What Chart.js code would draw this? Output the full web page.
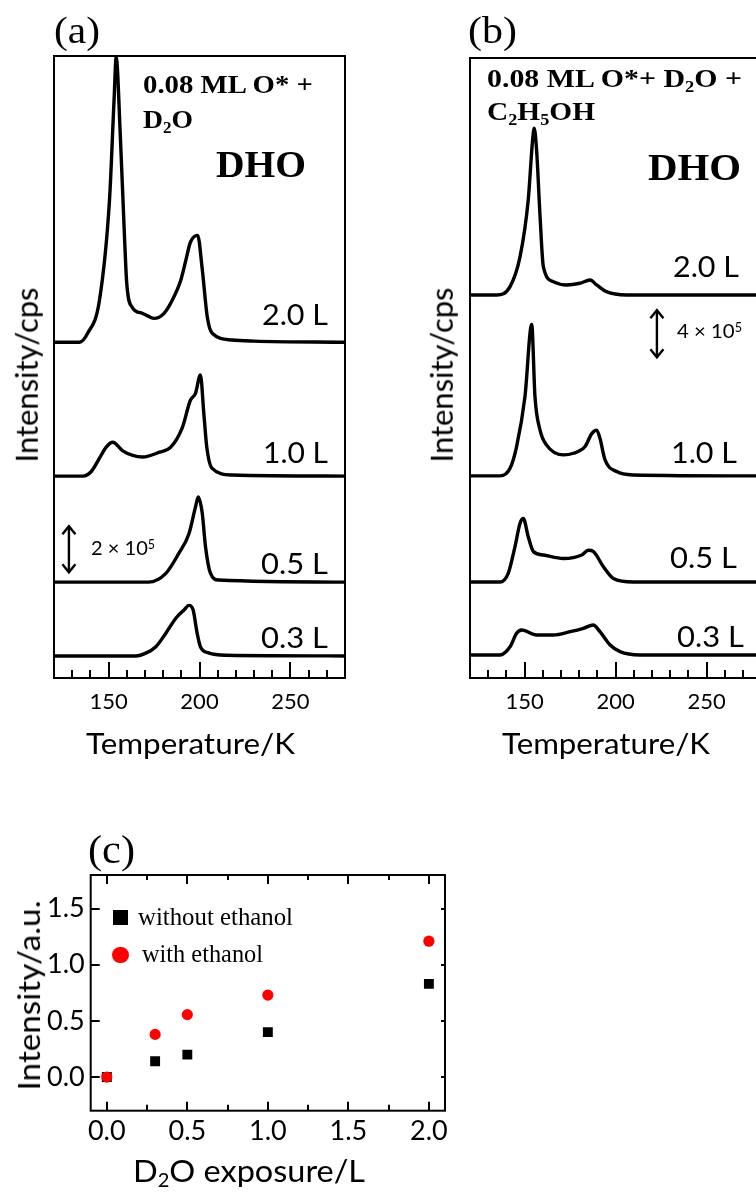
<!DOCTYPE html>
<html><head><meta charset="utf-8">
<script src="https://cdn.jsdelivr.net/npm/chart.js@4.4.1/dist/chart.umd.min.js"></script>
<style>
html,body{margin:0;padding:0;width:756px;height:1192px;overflow:hidden;background:#fff;}
.box{position:absolute;}
.t{position:absolute;white-space:nowrap;line-height:1;color:#000;}
.t sub{font-size:0.62em;vertical-align:-0.28em;line-height:0;}
.t sup{font-size:0.62em;vertical-align:0.45em;line-height:0;}
.bl{display:inline-block;width:0;height:0;vertical-align:baseline;}
.mk{position:absolute;}
</style></head><body>
<div class="box" style="left:0;top:0"><canvas id="ca" width="380" height="740"></canvas></div>
<div class="box" style="left:400px;top:0"><canvas id="cb" width="380" height="740"></canvas></div>
<div class="box" style="left:0;top:800px"><canvas id="cc" width="460" height="392"></canvas></div>
<script>
// ---------------- DATA ----------------
// Panel (a): 0.08 ML O* + D2O, DHO TPD traces (temperature K, intensity in 1e5 cps)
const exposureLabels = ['2.0 L', '1.0 L', '0.5 L', '0.3 L'];

const a20T = [120,134,138.5,145,150.5,153,154.2,156.4,158.7,160,163,168.6,175,180.5,185,189.7,192.5,195,199,201.4,204.3,207,217.8,230,280];
const a20I = [0,0,0.39,1.83,6.17,10.5,12.4,9.1,4.7,2.56,1.52,1.26,1.04,1.26,1.83,2.7,3.57,4.35,4.65,3.26,1.09,0.39,0.1,0.05,0];
const a10T = [120,136,140.5,145,148.7,152.3,157.8,163.3,168.7,178,184.2,190.5,195,197.8,200.5,202.4,204,206.8,217.8,280];
const a10I = [0,0,0.2,0.78,1.26,1.47,1.1,0.9,0.83,1.04,1.26,2.1,3.3,3.6,4.4,2.7,1.26,0.35,0.05,0];
const a05T = [120,172,181.5,188.7,194.2,197.8,199.3,201.5,203.3,206,210.5,280];
const a05I = [0,0,0.38,1.26,2.1,3.27,3.7,3.0,1.54,0.39,0.09,0];
const a03T = [120,165,170.5,176,181.5,187,191.5,194.2,196.5,198.7,200.5,205,215,280];
const a03I = [0,0,0.12,0.4,0.99,1.64,2.0,2.2,2.0,0.99,0.4,0.13,0.03,0];

// Panel (b): 0.08 ML O* + D2O + C2H5OH
const b20T = [120,134.7,142,147.5,152,154.4,155.3,156.6,158.5,160.3,165.8,173,180.4,186,189.6,195,206,280];
const b20I = [0,0,0.71,3.26,8.1,13.2,14.2,12.3,6.67,2.41,1.13,0.85,1.0,1.28,0.85,0.28,0,0];
const b10T = [120,136.5,142,145.6,150.2,153.9,155.7,158.5,162,171.3,176.8,183.2,186.9,189.6,191.4,194.2,200.6,209.7,280];
const b10I = [0,0,0.65,2.5,6.75,12.9,6.75,3.9,2.64,1.79,1.93,2.5,3.6,3.9,3.2,1.36,0.37,0.08,0];
const b05T = [120,136.5,141,144.7,147.5,149.3,152,154.8,160.3,171.3,181.4,185,187.7,193.3,198.8,209.7,280];
const b05I = [0,0,0.74,3.0,5.0,5.4,3.86,2.6,2.3,2.0,2.3,2.7,2.6,1.3,0.3,0,0];
const b03T = [120,136.5,142,145.6,148.4,156.6,165.8,175,182.3,187.7,191.4,197,202.4,213.4,280];
const b03I = [0,0,0.7,1.85,2.13,1.7,1.7,1.98,2.27,2.55,1.98,0.85,0.28,0,0];

// vertical stacking offsets of the traces (1e5 cps)
const offsetsA = [14.6, 8.78, 4.17, 0.96];
const offsetsB = [32.6, 17.2, 8.17, 1.96];

// Panel (c)
const exposure = [0, 0.3, 0.5, 1.0, 2.0];
const withoutEthanol = [0, 0.14, 0.20, 0.40, 0.83];
const withEthanol = [0, 0.38, 0.556, 0.73, 1.21];

// tick settings
const tempTickLabels = [150, 200, 250];

// ---------------- CHARTS ----------------
Chart.defaults.font.family = 'Lato';
Chart.defaults.color = '#000';

function isMult(v, m){ return Math.abs(v/m - Math.round(v/m)) < 1e-6; }

const framePlugin = {
  id: 'frame',
  afterDatasetsDraw(chart, args, o) {
    const ctx = chart.ctx, a = chart.chartArea;
    const xs = chart.scales.x, ys = chart.scales.y;
    ctx.save();
    ctx.strokeStyle = '#000';
    ctx.lineWidth = o.lw || 2;
    ctx.lineCap = 'butt';
    ctx.strokeRect(a.left, a.top, a.right - a.left, a.bottom - a.top);
    (o.xTicks || []).forEach(s => {
      xs.ticks.forEach(t => {
        const len = isMult(t.value, s.major) ? s.majorLen : s.minorLen;
        if (!len) return;
        const px = Math.round(xs.getPixelForValue(t.value));
        const y0 = s.edge === 'bottom' ? a.bottom : a.top;
        const dir = s.edge === 'bottom' ? -1 : 1;
        ctx.beginPath(); ctx.moveTo(px, y0); ctx.lineTo(px, y0 + dir * len); ctx.stroke();
      });
    });
    (o.yTicks || []).forEach(s => {
      ys.ticks.forEach(t => {
        const len = isMult(t.value, s.major) ? s.majorLen : s.minorLen;
        if (!len) return;
        const py = Math.round(ys.getPixelForValue(t.value));
        const x0 = s.edge === 'left' ? a.left : a.right;
        const dir = s.edge === 'left' ? 1 : -1;
        ctx.beginPath(); ctx.moveTo(x0, py); ctx.lineTo(x0 + dir * len, py); ctx.stroke();
      });
    });
    (o.arrows || []).forEach(ar => {
      const x = xs.getPixelForValue(ar.x);
      const yT = ys.getPixelForValue(ar.y1), yB = ys.getPixelForValue(ar.y0);
      const hw = 6.5, hh = 8;
      ctx.lineWidth = 2.4;
      ctx.lineJoin = 'miter';
      ctx.beginPath(); ctx.moveTo(x, yT + 1); ctx.lineTo(x, yB - 1); ctx.stroke();
      ctx.beginPath(); ctx.moveTo(x - hw, yT + hh); ctx.lineTo(x, yT); ctx.lineTo(x + hw, yT + hh); ctx.stroke();
      ctx.beginPath(); ctx.moveTo(x - hw, yB - hh); ctx.lineTo(x, yB); ctx.lineTo(x + hw, yB - hh); ctx.stroke();
    });
    ctx.restore();
  }
};

function traceSets(Ts, Is, offs) {
  return Ts.map((T, k) => ({
    label: exposureLabels[k],
    data: T.map((t, i) => ({x: t, y: Is[k][i] + offs[k]})),
    showLine: true,
    borderColor: '#000',
    borderWidth: 3.4,
    pointRadius: 0,
    cubicInterpolationMode: 'monotone',
    borderJoinStyle: 'round',
    borderCapStyle: 'round'
  }));
}

function tpdOptions(pad, ymax, arrow) {
  return {
    responsive: false,
    animation: false,
    layout: {padding: pad},
    plugins: {
      legend: {display: false},
      tooltip: {enabled: false},
      frame: {
        lw: 2,
        xTicks: [{edge: 'bottom', major: 50, majorLen: 16, minorLen: 8}],
        arrows: [arrow]
      }
    },
    scales: {
      x: {
        type: 'linear', min: 120, max: 280,
        grid: {display: false, drawTicks: false},
        border: {display: false},
        ticks: {
          stepSize: 10, autoSkip: false, maxRotation: 0, padding: 11,
          font: {size: 22},
          callback: v => tempTickLabels.includes(Math.round(v)) ? String(Math.round(v)) : ''
        },
        afterFit: s => { s.height = 62; }
      },
      y: {type: 'linear', display: false, min: 0, max: ymax}
    }
  };
}

new Chart(document.getElementById('ca'), {
  type: 'scatter',
  data: {datasets: traceSets([a20T, a10T, a05T, a03T], [a20I, a10I, a05I, a03I], offsetsA)},
  options: tpdOptions({left: 54, top: 56, right: 35, bottom: 0}, 27.05, {x: 128.2, y0: 4.6, y1: 6.6}),
  plugins: [framePlugin]
});

new Chart(document.getElementById('cb'), {
  type: 'scatter',
  data: {datasets: traceSets([b20T, b10T, b05T, b03T], [b20I, b10I, b05I, b03I], offsetsB)},
  options: tpdOptions({left: 70, top: 58, right: 18.8, bottom: 0}, 52.77, {x: 222.7, y0: 27.3, y1: 31.3}),
  plugins: [framePlugin]
});

new Chart(document.getElementById('cc'), {
  type: 'scatter',
  data: {datasets: [
    {label: 'with ethanol', order: 0, data: exposure.map((e, i) => ({x: e, y: withEthanol[i]})),
     pointStyle: 'circle', pointRadius: 5.6, backgroundColor: '#ff0000', borderColor: '#ff0000', borderWidth: 0},
    {label: 'without ethanol', order: 1, data: exposure.map((e, i) => ({x: e, y: withoutEthanol[i]})),
     pointStyle: 'rect', pointRadius: 7, backgroundColor: '#000', borderColor: '#000', borderWidth: 0}
  ]},
  options: {
    responsive: false,
    animation: false,
    layout: {padding: {left: 0, top: 75, right: 15, bottom: 0}},
    plugins: {
      legend: {display: false},
      tooltip: {enabled: false},
      frame: {
        lw: 2,
        xTicks: [{edge: 'bottom', major: 0.5, majorLen: 9, minorLen: 6},
                 {edge: 'top', major: 0.5, majorLen: 9, minorLen: 5}],
        yTicks: [{edge: 'left', major: 0.5, majorLen: 9, minorLen: 0},
                 {edge: 'right', major: 0.5, majorLen: 4, minorLen: 0}]
      }
    },
    scales: {
      x: {
        type: 'linear', min: -0.1, max: 2.1,
        grid: {display: false, drawTicks: false},
        border: {display: false},
        ticks: {stepSize: 0.25, includeBounds: false, autoSkip: false, maxRotation: 0, padding: 4,
                font: {size: 27},
                callback: v => isMult(v, 0.5) ? v.toFixed(1) : ''},
        afterFit: s => { s.height = 81.3; }
      },
      y: {
        type: 'linear', min: -0.3, max: 1.8,
        grid: {display: false, drawTicks: false},
        border: {display: false},
        ticks: {stepSize: 0.5, includeBounds: false, padding: 6, font: {size: 27},
                callback: v => v.toFixed(1)},
        afterFit: s => { s.width = 90.7; }
      }
    }
  },
  plugins: [framePlugin]
});

// ---------------- TEXT ----------------
const SANS = 'Lato, "Open Sans", sans-serif';
const SERIF = '"Liberation Serif", "DejaVu Serif", serif';
function addText(html, o) {
  const d = document.createElement('div');
  d.className = 't';
  d.style.fontFamily = o.family;
  d.style.fontSize = o.size + 'px';
  d.style.fontWeight = o.bold ? 'bold' : 'normal';
  d.innerHTML = html + '<span class="bl"></span>';
  d.style.left = '0px'; d.style.top = '0px';
  document.body.appendChild(d);
  const r = d.getBoundingClientRect();
  const bl = d.querySelector('.bl').getBoundingClientRect().top - r.top;
  const w = r.width;
  const s = o.w ? o.w / w : 1;
  if (!o.rot) {
    const tw = w * s;
    const left = o.align === 'center' ? o.x - tw / 2 : o.x;
    d.style.left = left + 'px';
    d.style.top = (o.y - bl) + 'px';
    d.style.transformOrigin = '0 0';
    d.style.transform = 'scaleX(' + s + ')';
  } else {
    d.style.left = (o.x - w / 2) + 'px';
    d.style.top = (o.y - r.height / 2) + 'px';
    d.style.transformOrigin = '50% 50%';
    d.style.transform = 'rotate(-90deg) scaleX(' + s + ')';
  }
}

// panel (a)
addText('(a)', {x: 54, y: 43, size: 38, family: SERIF, w: 46});
addText('0.08 ML O* +', {x: 143, y: 93, size: 26, family: SERIF, bold: true, w: 170});
addText('D<sub>2</sub>O', {x: 143, y: 128, size: 26, family: SERIF, bold: true, w: 50});
addText('DHO', {x: 216, y: 177, size: 38, family: SERIF, bold: true, w: 90});
addText('2.0 L', {x: 262, y: 325, size: 28, family: SANS, w: 66});
addText('1.0 L', {x: 263, y: 463, size: 28, family: SANS, w: 65});
addText('0.5 L', {x: 261, y: 574, size: 28, family: SANS, w: 67});
addText('0.3 L', {x: 261, y: 648, size: 28, family: SANS, w: 67});
addText('2 × 10<sup>5</sup>', {x: 91, y: 555, size: 20, family: SANS, w: 64});
addText('Temperature/K', {x: 190.5, y: 754, size: 29, family: SANS, w: 209, align: 'center'});
addText('Intensity/cps', {x: 25.5, y: 375, size: 30, family: SANS, w: 175, rot: true});

// panel (b)
addText('(b)', {x: 468, y: 43, size: 38, family: SERIF, w: 49});
addText('0.08 ML O*+ D<sub>2</sub>O +', {x: 487, y: 87, size: 26, family: SERIF, bold: true, w: 255});
addText('C<sub>2</sub>H<sub>5</sub>OH', {x: 487, y: 120, size: 26, family: SERIF, bold: true, w: 108});
addText('DHO', {x: 648, y: 180, size: 38, family: SERIF, bold: true, w: 93});
addText('2.0 L', {x: 673, y: 277, size: 28, family: SANS, w: 66});
addText('4 × 10<sup>5</sup>', {x: 677, y: 338, size: 20, family: SANS, w: 65});
addText('1.0 L', {x: 671, y: 463, size: 28, family: SANS, w: 66});
addText('0.5 L', {x: 670, y: 568, size: 28, family: SANS, w: 67});
addText('0.3 L', {x: 677, y: 647, size: 28, family: SANS, w: 67});
addText('Temperature/K', {x: 606, y: 754, size: 29, family: SANS, w: 208, align: 'center'});
addText('Intensity/cps', {x: 441, y: 375, size: 30, family: SANS, w: 175, rot: true});

// panel (c)
addText('(c)', {x: 88, y: 863, size: 40, family: SERIF, w: 47});
addText('without ethanol', {x: 138, y: 925, size: 25, family: SERIF, w: 155});
addText('with ethanol', {x: 142, y: 962, size: 25, family: SERIF, w: 121});
addText('Intensity/a.u.', {x: 29, y: 995, size: 31, family: SANS, w: 190, rot: true});
addText('D<sub>2</sub>O exposure/L', {x: 133, y: 1182, size: 31, family: SANS, w: 232});

// legend markers
function marker(cx, cy, size, round, color) {
  const m = document.createElement('div');
  m.className = 'mk';
  m.style.left = (cx - size / 2) + 'px'; m.style.top = (cy - size / 2) + 'px';
  m.style.width = size + 'px'; m.style.height = size + 'px';
  m.style.background = color;
  if (round) m.style.borderRadius = '50%';
  document.body.appendChild(m);
}
marker(120.7, 917, 15, false, '#000');
marker(120.5, 955, 16.5, true, '#ff0000');
</script>
</body></html>
